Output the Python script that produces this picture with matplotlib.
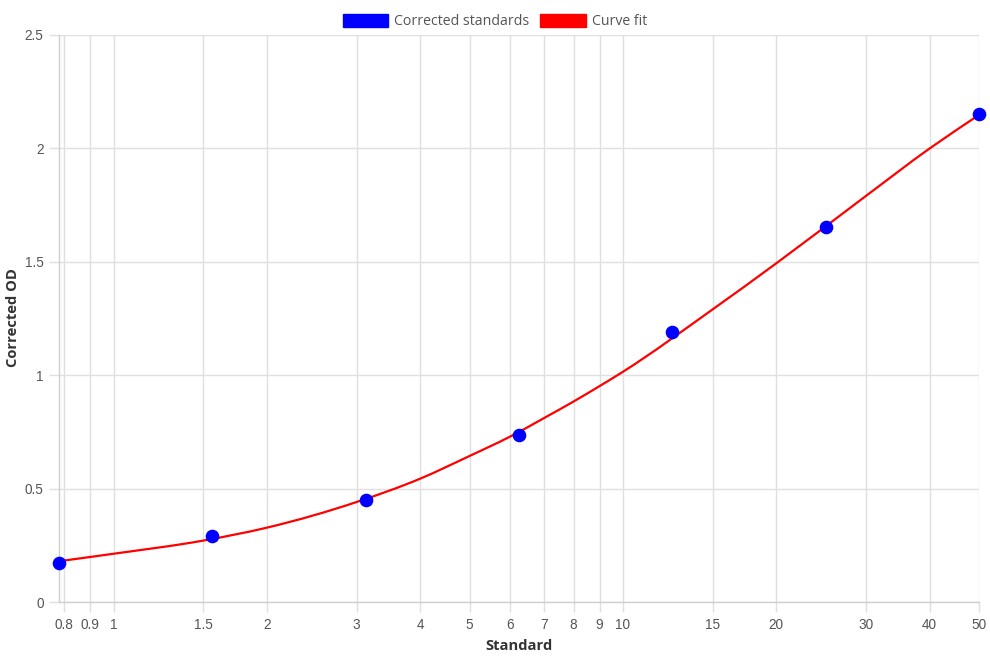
import matplotlib
matplotlib.use("Agg")
import numpy as np
import matplotlib.pyplot as plt
from matplotlib.patches import Patch, PathPatch
from matplotlib.path import Path
from matplotlib.ticker import FixedLocator, FixedFormatter, NullLocator

# Data
std_x = [0.78125, 1.5625, 3.125, 6.25, 12.5, 25, 50]
std_y = [0.175, 0.290, 0.452, 0.737, 1.193, 1.653, 2.151]

fit_x = [0.78125, 1, 1.5, 2, 3, 4, 5, 6, 7, 8, 9, 10, 15, 20, 30, 40, 50]
fit_y = [0.181, 0.214, 0.272, 0.329, 0.442, 0.545, 0.645, 0.730, 0.812, 0.885, 0.953, 1.016,
         1.291, 1.494, 1.791, 2.000, 2.148]

x_ticks = [0.8, 0.9, 1, 1.5, 2, 3, 4, 5, 6, 7, 8, 9, 10, 15, 20, 30, 40, 50]
x_tick_labels = ["0.8", "0.9", "1", "1.5", "2", "3", "4", "5", "6", "7", "8", "9", "10",
                 "15", "20", "30", "40", "50"]
y_ticks = [0, 0.5, 1, 1.5, 2, 2.5]
y_tick_labels = ["0", "0.5", "1", "1.5", "2", "2.5"]

W, H = 990, 660
fig = plt.figure(figsize=(W / 100, H / 100), dpi=100)
L, R, T, B = 59, 979, 35, 602.3
ax = fig.add_axes([L / W, 1 - B / H, (R - L) / W, (B - T) / H])

grid_c = "#e0e0e0"
tick_c = "#666666"

ax.set_xscale("log")
ax.set_xlim(std_x[0], 50)
ax.set_ylim(0, 2.5)
ax.xaxis.set_major_locator(FixedLocator(x_ticks))
ax.xaxis.set_major_formatter(FixedFormatter(x_tick_labels))
ax.xaxis.set_minor_locator(NullLocator())
ax.yaxis.set_major_locator(FixedLocator(y_ticks))
ax.yaxis.set_major_formatter(FixedFormatter(y_tick_labels))

ax.grid(True, color=grid_c, linewidth=1.0)
ax.set_axisbelow(True)
for s in ["top", "right"]:
    ax.spines[s].set_visible(False)
for s in ["left", "bottom"]:
    ax.spines[s].set_color("#cfcfcf")
    ax.spines[s].set_linewidth(1.0)

ax.tick_params(axis="both", which="major", length=7, width=1.0, color=grid_c,
               labelcolor="#555555", labelsize=9.8, pad=4)
for lab in ax.get_xticklabels() + ax.get_yticklabels():
    lab.set_fontfamily(["Liberation Sans", "DejaVu Sans"])

# Smooth rendering of the read fit points: cubic Hermite path in log-x space
lx = np.log10(np.array(fit_x, dtype=float))
fy = np.array(fit_y, dtype=float)
h = np.diff(lx)
d = np.diff(fy) / h
m = np.empty_like(fy)
m[0], m[-1] = d[0], d[-1]
m[1:-1] = (d[:-1] * h[1:] + d[1:] * h[:-1]) / (h[:-1] + h[1:])
verts = [[lx[0], fy[0]]]
codes = [Path.MOVETO]
for i in range(len(lx) - 1):
    verts.append([lx[i] + h[i] / 3, fy[i] + m[i] * h[i] / 3])
    verts.append([lx[i + 1] - h[i] / 3, fy[i + 1] - m[i + 1] * h[i] / 3])
    verts.append([lx[i + 1], fy[i + 1]])
    codes += [Path.CURVE4] * 3
verts = np.array(verts)
verts[:, 0] = 10 ** verts[:, 0]
curve = PathPatch(Path(verts, codes), facecolor="none", edgecolor="#ff0000",
                  linewidth=1.6, zorder=3, transform=ax.transData)
ax.add_patch(curve)

ax.plot(std_x, std_y, linestyle="none", marker="o", markersize=8.8,
        markerfacecolor="#0000ff", markeredgecolor="#0000ff", zorder=4, clip_on=False)

title_font = ["Open Sans", "DejaVu Sans"]
ax.set_xlabel("Standard", fontsize=10.6, fontweight="bold", color="#333333",
              family=title_font)
ax.set_ylabel("Corrected OD", fontsize=10.6, fontweight="bold", color="#333333",
              family=title_font)
ax.xaxis.set_label_coords((519 - L) / (R - L), -(646.5 - B) / (B - T), transform=ax.transAxes)
ax.yaxis.set_label_coords(-(L - 13) / (R - L), (B - 318) / (B - T), transform=ax.transAxes)
ax.xaxis.label.set_verticalalignment("center")
ax.yaxis.label.set_verticalalignment("center")

handles = [Patch(facecolor="#0000ff", edgecolor="#0000ff", label="Corrected standards"),
           Patch(facecolor="#ff0000", edgecolor="#ff0000", label="Curve fit")]
leg = fig.legend(handles=handles, loc="upper center", bbox_to_anchor=(0.5, 0.998), ncol=2,
                 frameon=False, prop={"family": title_font, "size": 10.2},
                 handlelength=3.2, handleheight=1.0, handletextpad=0.45,
                 columnspacing=0.75)
for t in leg.get_texts():
    t.set_color("#555555")

fig.savefig("out.png", dpi=100, facecolor="white")
